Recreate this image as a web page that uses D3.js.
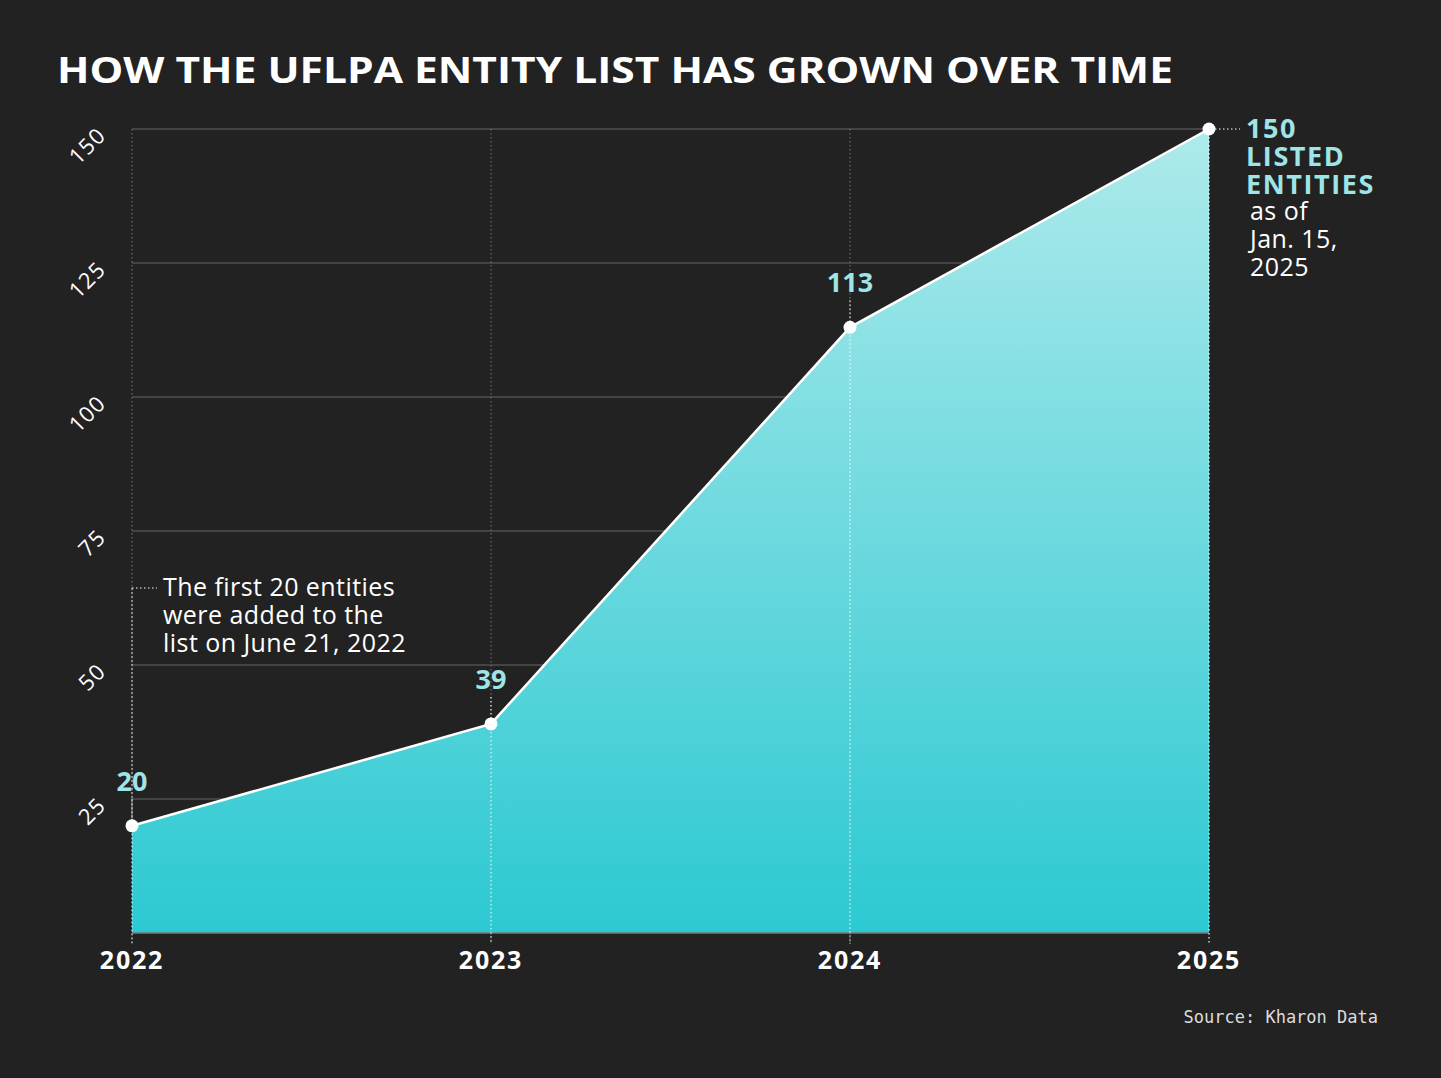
<!DOCTYPE html>
<html>
<head>
	<title>UFLPA entity list</title>
	<script type="text/javascript" src="https://d3js.org/d3.v7.min.js"></script>
	<style>
		body { margin: 0; background: #222222; }
		svg { display: block; }
	</style>
</head>
<body>
	<script type="text/javascript">
		// data
		var years = [2022, 2023, 2024, 2025];
		var entities = [20, 39, 113, 150];
		var yTicks = [25, 50, 75, 100, 125, 150];
		var titleText = "HOW THE UFLPA ENTITY LIST HAS GROWN OVER TIME";
		var noteLeft = ["The first 20 entities", "were added to the", "list on June 21, 2022"];
		var noteRightBold = ["150", "LISTED", "ENTITIES"];
		var noteRight = ["as of", "Jan. 15,", "2025"];
		var sourceText = "Source: Kharon Data";

		var data = years.map(function (y, i) { return {year: y, value: entities[i]}; });

		var W = 1441, H = 1078;
		var cyan = "#9fe4e7";
		var font = "'Open Sans', 'Noto Sans', sans-serif";

		var svg = d3.select("body").append("svg").attr("width", W).attr("height", H);
		svg.append("rect").attr("width", W).attr("height", H).attr("fill", "#222222");

		var x = d3.scaleLinear().domain([2022, 2025]).range([132, 1209]);
		var y = d3.scaleLinear().domain([0, 150]).range([933, 129]);

		var defs = svg.append("defs");
		var grad = defs.append("linearGradient").attr("id", "fillGrad")
			.attr("gradientUnits", "userSpaceOnUse")
			.attr("x1", 0).attr("x2", 0).attr("y1", y(150)).attr("y2", y(0));
		grad.append("stop").attr("offset", "0%").attr("stop-color", "#aeeaeb");
		grad.append("stop").attr("offset", "100%").attr("stop-color", "#2cc9d2");

		// title
		svg.append("text").attr("x", 57).attr("y", 83)
			.attr("fill", "#ffffff").attr("font-family", font).attr("font-weight", 700)
			.attr("font-size", 36).attr("textLength", 1116).attr("lengthAdjust", "spacingAndGlyphs")
			.text(titleText);

		// horizontal grid
		svg.append("g").selectAll("line").data(yTicks).enter().append("line")
			.attr("x1", x(2022)).attr("x2", x(2025))
			.attr("y1", function (d) { return y(d); }).attr("y2", function (d) { return y(d); })
			.attr("stroke", "#666").attr("stroke-width", 1);

		// vertical dotted grid (gray on background)
		svg.append("g").selectAll("line").data(years).enter().append("line")
			.attr("x1", function (d) { return x(d); }).attr("x2", function (d) { return x(d); })
			.attr("y1", y(150)).attr("y2", y(0) + 11)
			.attr("stroke", "#777").attr("stroke-width", 1).attr("stroke-dasharray", "1.5,2.5");

		// area
		var area = d3.area().x(function (d) { return x(d.year); }).y0(y(0)).y1(function (d) { return y(d.value); });
		svg.append("path").datum(data).attr("d", area).attr("fill", "url(#fillGrad)");

		// baseline
		svg.append("line").attr("x1", x(2022)).attr("x2", x(2025)).attr("y1", y(0)).attr("y2", y(0))
			.attr("stroke", "#777").attr("stroke-width", 1.5);

		// white dotted lines inside area and below baseline
		svg.append("g").selectAll("line").data(data).enter().append("line")
			.attr("x1", function (d) { return x(d.year); }).attr("x2", function (d) { return x(d.year); })
			.attr("y1", function (d) { return y(d.value); }).attr("y2", y(0) + 11)
			.attr("stroke", "#ffffff").attr("stroke-width", 1).attr("stroke-dasharray", "1.5,2.5");

		// white dotted from value labels down to points (not for last)
		svg.append("g").selectAll("line").data(data.slice(0, 3)).enter().append("line")
			.attr("x1", function (d) { return x(d.year); }).attr("x2", function (d) { return x(d.year); })
			.attr("y1", function (d) { return y(d.value) - 27; }).attr("y2", function (d) { return y(d.value); })
			.attr("stroke", "#ffffff").attr("stroke-width", 1).attr("stroke-dasharray", "1.5,2.5");

		// line
		var line = d3.line().x(function (d) { return x(d.year); }).y(function (d) { return y(d.value); });
		svg.append("path").datum(data).attr("d", line)
			.attr("fill", "none").attr("stroke", "#ffffff").attr("stroke-width", 2.5);

		// points
		svg.append("g").selectAll("circle").data(data).enter().append("circle")
			.attr("cx", function (d) { return x(d.year); }).attr("cy", function (d) { return y(d.value); })
			.attr("r", 6.5).attr("fill", "#ffffff");

		// value labels
		svg.append("g").selectAll("text").data(data.slice(0, 3)).enter().append("text")
			.attr("x", function (d) { return x(d.year); }).attr("y", function (d) { return y(d.value) - 35; })
			.attr("text-anchor", "middle").attr("fill", cyan)
			.attr("font-family", font).attr("font-weight", 700).attr("font-size", 27)
			.text(function (d) { return d.value; });

		// y tick labels, rotated
		svg.append("g").selectAll("text").data(yTicks).enter().append("text")
			.attr("transform", function (d) { return "translate(107," + (y(d) + 8) + ") rotate(-45)"; })
			.attr("text-anchor", "end").attr("fill", "#ffffff")
			.attr("font-family", font).attr("font-weight", 400).attr("font-size", 22)
			.attr("letter-spacing", 1)
			.text(function (d) { return d; });

		// x labels
		svg.append("g").selectAll("text").data(years).enter().append("text")
			.attr("x", function (d) { return x(d); }).attr("y", 969)
			.attr("text-anchor", "middle").attr("fill", "#ffffff")
			.attr("font-family", font).attr("font-weight", 700).attr("font-size", 25)
			.attr("letter-spacing", 1.8)
			.text(function (d) { return d; });

		// left note
		var ny = 588;
		svg.append("line").attr("x1", x(2022)).attr("x2", 157).attr("y1", ny).attr("y2", ny)
			.attr("stroke", "#ffffff").attr("stroke-width", 1).attr("stroke-dasharray", "1.5,2.5");
		svg.append("line").attr("x1", x(2022)).attr("x2", x(2022)).attr("y1", ny).attr("y2", y(20))
			.attr("stroke", "#ffffff").attr("stroke-width", 1).attr("stroke-dasharray", "1.5,2.5");
		svg.append("g").selectAll("text").data(noteLeft).enter().append("text")
			.attr("x", 163).attr("y", function (d, i) { return 596 + i * 28; })
			.attr("fill", "#ffffff").attr("font-family", font).attr("font-size", 25)
			.attr("letter-spacing", 0.45)
			.text(function (d) { return d; });

		// right note
		svg.append("line").attr("x1", x(2025) + 6).attr("x2", 1240).attr("y1", y(150)).attr("y2", y(150))
			.attr("stroke", "#ffffff").attr("stroke-width", 1).attr("stroke-dasharray", "1.5,2.5");
		svg.append("g").selectAll("text").data(noteRightBold).enter().append("text")
			.attr("x", 1246).attr("y", function (d, i) { return 138 + i * 28; })
			.attr("fill", cyan).attr("font-family", font).attr("font-weight", 700).attr("font-size", 27)
			.attr("letter-spacing", 1.6)
			.text(function (d) { return d; });
		svg.append("g").selectAll("text").data(noteRight).enter().append("text")
			.attr("x", 1250).attr("y", function (d, i) { return 220 + i * 28; })
			.attr("fill", "#ffffff").attr("font-family", font).attr("font-size", 25)
			.attr("letter-spacing", 0.45)
			.text(function (d) { return d; });

		// source
		svg.append("text").attr("x", 1378).attr("y", 1023).attr("text-anchor", "end")
			.attr("fill", "#dddddd").attr("font-family", "'DejaVu Sans Mono', 'Liberation Mono', monospace")
			.attr("font-size", 17).text(sourceText);
	</script>
</body>
</html>
